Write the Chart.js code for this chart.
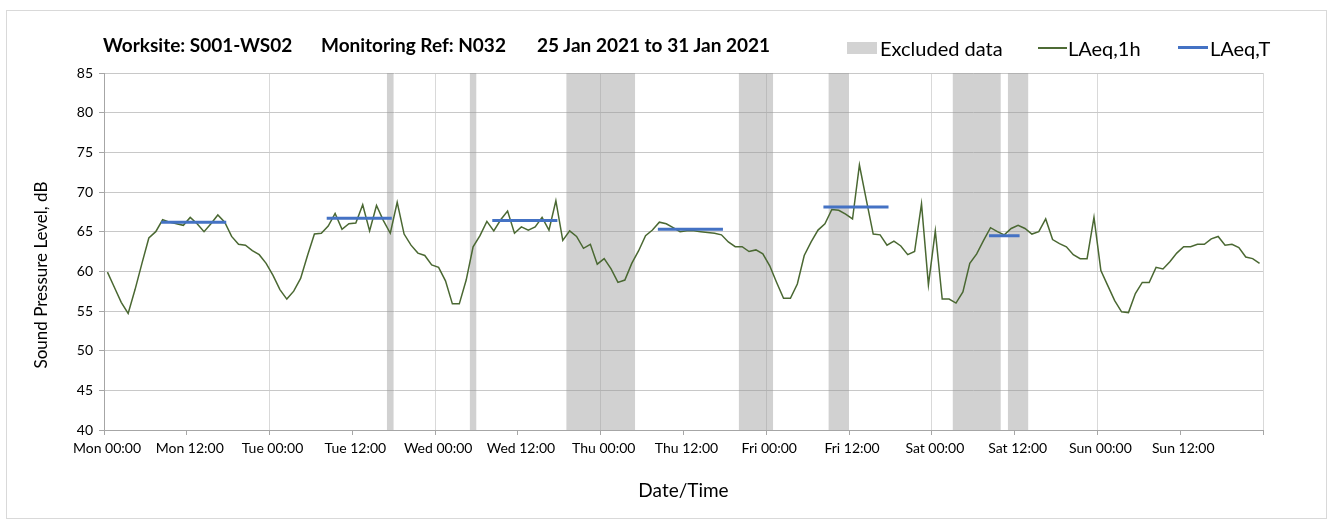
<!DOCTYPE html>
<html>
<head>
<meta charset="utf-8">
<title>Noise monitoring N032</title>
<script src="https://cdn.jsdelivr.net/npm/chart.js"></script>
<style>
body { margin: 0; background: #fff; font-family: Lato, "Open Sans", sans-serif; }
#wrap { position: relative; width: 1334px; height: 526px; }
#frame { position: absolute; left: 6px; top: 10px; width: 1319px; height: 507px; border: 1px solid #d9d9d9; }
.ttl { position: absolute; top: 34px; font-weight: bold; font-size: 19px; color: #000; white-space: nowrap; line-height: 22px; }
.lg { position: absolute; top: 36px; font-size: 20px; color: #000; white-space: nowrap; line-height: 24px; }
.sw { position: absolute; }
#ytitle { position: absolute; left: 40px; top: 275px; transform: translate(-50%, -50%) rotate(-90deg); font-size: 17px; white-space: nowrap; color: #000; }
canvas { position: absolute; left: 0; top: 0; }
</style>
</head>
<body>
<div id="wrap">
  <canvas id="noiseChart" width="1334" height="526"></canvas>
  <div id="frame"></div>
  <div class="ttl" style="left:103px">Worksite: S001-WS02</div>
  <div class="ttl" style="left:321px">Monitoring Ref: N032</div>
  <div class="ttl" style="left:537px">25 Jan 2021 to 31 Jan 2021</div>
  <div class="sw" style="left:847px;top:42px;width:30px;height:12px;background:#d3d3d3"></div>
  <div class="lg" style="left:880px">Excluded data</div>
  <div class="sw" style="left:1038px;top:47px;width:29px;height:2px;background:#4e6b35"></div>
  <div class="lg" style="left:1068px">LAeq,1h</div>
  <div class="sw" style="left:1178px;top:46px;width:30px;height:3px;background:#4472c4"></div>
  <div class="lg" style="left:1210px">LAeq,T</div>
  <div id="ytitle">Sound Pressure Level, dB</div>
</div>
<script>
// hours counted from Mon 25 Jan 2021 00:00
const dayNames = ['Mon','Tue','Wed','Thu','Fri','Sat','Sun'];

// hourly LAeq,1h, one value per hour starting Mon 00:00
const laeq1h = [
  59.9,58.0,56.1,54.7,57.7,61.0,64.2,65.0,66.5,66.2,66.0,65.8,66.8,66.0,65.0,66.0,67.1,66.2,64.4,63.4,63.3,62.6,62.1,61.0,
  59.5,57.7,56.5,57.5,59.1,62.0,64.7,64.8,65.7,67.3,65.3,66.0,66.1,68.4,65.1,68.3,66.4,64.8,68.7,64.7,63.3,62.3,62.0,60.8,
  60.5,58.8,55.9,55.9,58.9,63.1,64.5,66.3,65.1,66.5,67.6,64.8,65.6,65.2,65.6,66.8,65.2,68.9,63.9,65.1,64.4,62.9,63.4,60.9,
  61.6,60.3,58.6,58.9,61.0,62.6,64.5,65.2,66.2,66.0,65.5,65.0,65.1,65.1,65.0,64.9,64.8,64.6,63.7,63.1,63.1,62.5,62.7,62.2,
  60.7,58.6,56.6,56.6,58.4,62.0,63.7,65.2,66.0,67.8,67.7,67.2,66.6,73.4,69.0,64.7,64.6,63.3,63.8,63.2,62.1,62.5,68.5,58.3,
  65.1,56.5,56.5,56.0,57.4,61.0,62.2,63.9,65.5,65.0,64.6,65.4,65.8,65.4,64.7,65.0,66.6,64.0,63.5,63.1,62.1,61.6,61.6,66.8,
  60.1,58.2,56.3,54.9,54.8,57.2,58.6,58.6,60.5,60.3,61.2,62.3,63.1,63.1,63.4,63.4,64.1,64.4,63.3,63.4,63.0,61.8,61.6,61.0
];

// LAeq,T over each working period (start/end hour)
const periodStart = [8, 32, 56, 80, 104, 128];
const periodEnd = [18, 42, 66, 90, 114, 133];
const laeqT = [66.2, 66.7, 66.4, 65.3, 68.1, 64.5];

// excluded data periods (start/end hour)
const exclStart = [41, 53, 67, 92, 105, 123, 131];
const exclEnd = [42, 54, 77, 97, 108, 130, 134];

const yMin = 40, yMax = 85, yStep = 5;
const xMax = 168, xStep = 12;

document.addEventListener("DOMContentLoaded", function(){

const hourlyPts = laeq1h.map((v, i) => ({x: i + 0.5, y: v}));

const periodPts = [];
periodStart.forEach((s, i) => {
  periodPts.push({x: s + 0.5, y: laeqT[i]});
  periodPts.push({x: periodEnd[i] - 0.5, y: laeqT[i]});
  periodPts.push({x: periodEnd[i], y: null});
});

const exclPts = [];
exclStart.forEach((s, i) => {
  exclPts.push({x: s, y: yMax});
  exclPts.push({x: exclEnd[i], y: yMax});
  exclPts.push({x: exclEnd[i] + 0.01, y: null});
});

const ctx = document.getElementById('noiseChart');

new Chart(ctx, {
  type: 'line',
  data: {
    datasets: [
      {
        label: 'LAeq,T',
        data: periodPts,
        borderColor: '#4472c4',
        borderWidth: 3,
        borderCapStyle: 'square',
        pointRadius: 0,
        spanGaps: false,
        order: 1
      },
      {
        label: 'LAeq,1h',
        data: hourlyPts,
        borderColor: '#4a6832',
        borderWidth: 1.5,
        pointRadius: 0,
        tension: 0,
        order: 2
      },
      {
        label: 'Excluded data',
        data: exclPts,
        borderWidth: 0,
        borderColor: 'rgba(0,0,0,0)',
        backgroundColor: 'rgba(150,150,150,0.44)',
        fill: 'start',
        pointRadius: 0,
        spanGaps: false,
        order: 3
      }
    ]
  },
  options: {
    responsive: false,
    animation: false,
    events: [],
    layout: { padding: { left: 0, right: 71, top: 73, bottom: 24 } },
    plugins: { legend: { display: false }, tooltip: { enabled: false } },
    scales: {
      x: {
        type: 'linear',
        min: 0,
        max: xMax,
        afterFit: function(scale){ scale.height = 72; },
        border: { color: '#a6a6a6' },
        grid: {
          color: c => (c.tick && c.tick.value % 24 === 0) ? '#d9d9d9' : 'rgba(0,0,0,0)',
          tickColor: '#a6a6a6',
          tickLength: 5
        },
        ticks: {
          stepSize: xStep,
          autoSkip: false,
          maxRotation: 0,
          padding: 5,
          labelOffset: 3,
          color: '#000',
          font: { family: 'Lato', size: 14 },
          callback: function(v){
            if (v >= xMax) return '';
            const d = dayNames[Math.floor(v / 24)];
            return d + (v % 24 === 0 ? ' 00:00' : ' 12:00');
          }
        },
        title: {
          display: true,
          text: 'Date/Time',
          color: '#000',
          padding: 0,
          font: { family: 'Lato', size: 19 }
        }
      },
      y: {
        min: yMin,
        max: yMax,
        afterFit: function(scale){ scale.width = 104; },
        border: { color: '#a6a6a6' },
        grid: { color: '#c8c8c8', tickColor: '#a6a6a6', tickLength: 5 },
        ticks: {
          stepSize: yStep,
          padding: 6,
          color: '#000',
          font: { family: 'Lato', size: 14 }
        }
      }
    }
  }
});

});
</script>
</body>
</html>
